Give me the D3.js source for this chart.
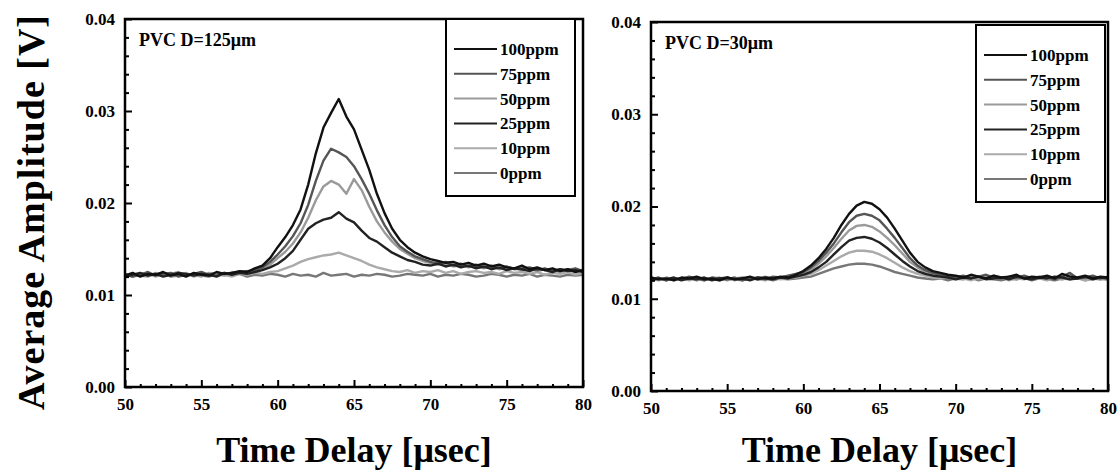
<!DOCTYPE html>
<html>
<head>
<meta charset="utf-8">
<script src="https://cdn.jsdelivr.net/npm/d3@7"></script>
<style>
  body { margin: 0; background: #fff; }
  svg { display: block; font-family: "Liberation Serif", "DejaVu Serif", serif; font-weight: bold; }
</style>
</head>
<body>
<svg id="chart" width="1120" height="473"></svg>
<script>
// sampling of the traces: 50 .. 80 usec every 0.5 usec
const timeStart = 50;
const timeStep = 0.5;

const seriesNames = ["100ppm", "75ppm", "50ppm", "25ppm", "10ppm", "0ppm"];
const xTicks = [50, 55, 60, 65, 70, 75, 80];
const yTicks = [0.00, 0.01, 0.02, 0.03, 0.04];

// amplitudes in mV (PVC D=125um)
const thick100 = [12.1,12.4,12.0,12.3,12.2,12.5,12.1,12.3,12.0,12.4,12.2,12.1,12.5,12.3,12.4,12.6,12.5,12.9,13.2,14.0,15.2,16.3,17.6,19.3,22.0,25.4,28.2,29.8,31.3,29.4,28.0,25.8,23.6,21.0,18.9,17.2,16.0,15.2,14.6,14.2,13.9,13.7,13.5,13.6,13.3,13.5,13.2,13.4,13.1,13.3,13.0,12.9,13.2,12.8,13.0,12.7,12.9,12.6,12.8,12.5,12.7];
const thick75 = [12.3,12.0,12.2,12.5,12.1,12.3,12.4,12.0,12.2,12.3,12.5,12.2,12.1,12.4,12.3,12.5,12.6,12.7,13.0,13.6,14.4,15.3,16.4,17.8,19.8,22.4,24.6,25.9,25.5,25.0,24.0,22.6,21.0,19.2,17.6,16.3,15.3,14.7,14.2,13.9,13.6,13.4,13.6,13.2,13.4,13.1,13.3,13.0,13.2,12.9,13.1,12.8,12.9,13.0,12.7,12.9,12.6,12.8,12.7,12.9,12.6];
const thick50 = [12.2,12.3,12.1,12.0,12.4,12.2,12.3,12.5,12.1,12.2,12.0,12.4,12.3,12.1,12.5,12.3,12.4,12.6,12.9,13.3,14.0,14.7,15.6,16.8,18.4,20.3,21.8,22.4,22.0,21.0,22.6,21.4,19.6,18.0,16.8,15.8,15.0,14.5,14.0,13.7,13.5,13.3,13.4,13.1,13.3,13.0,13.2,12.9,13.1,12.8,13.0,12.9,12.7,12.9,12.6,12.8,12.7,12.5,12.8,12.6,12.7];
const thick25 = [12.0,12.2,12.4,12.1,12.3,12.0,12.2,12.4,12.3,12.1,12.3,12.2,12.0,12.4,12.2,12.4,12.3,12.5,12.7,13.0,13.4,14.0,14.8,16.0,17.2,17.8,18.2,18.4,19.0,18.3,17.9,17.0,16.2,15.8,15.2,14.6,14.2,13.8,13.6,13.3,13.2,13.4,13.1,13.3,13.0,13.2,12.9,13.1,12.8,13.0,12.7,12.9,12.8,12.6,12.9,12.7,12.5,12.8,12.6,12.7,12.5];
const thick10 = [12.3,12.1,12.2,12.4,12.0,12.3,12.1,12.2,12.4,12.0,12.2,12.3,12.1,12.2,12.0,12.3,12.2,12.4,12.3,12.5,12.6,12.9,13.2,13.6,13.9,14.1,14.3,14.4,14.6,14.3,14.0,13.7,13.3,13.0,12.8,12.6,12.5,12.7,12.4,12.6,12.5,12.7,12.4,12.6,12.3,12.5,12.6,12.4,12.5,12.3,12.6,12.4,12.5,12.3,12.5,12.2,12.4,12.3,12.5,12.2,12.4];
const thick0 = [12.2,12.0,12.3,12.1,12.2,12.4,12.0,12.1,12.3,12.2,12.1,12.0,12.3,12.2,12.1,12.3,12.0,12.2,12.1,12.3,12.2,12.0,12.3,12.1,12.2,12.0,12.4,12.1,12.2,12.3,12.0,12.2,12.1,12.3,12.2,12.0,12.1,12.3,12.2,12.1,12.3,12.0,12.2,12.1,12.3,12.2,12.0,12.1,12.3,12.2,12.0,12.2,12.1,12.3,12.0,12.2,12.1,12.0,12.2,12.1,12.2];

// amplitudes in mV (PVC D=30um)
const thin100 = [12.3,12.1,12.2,12.0,12.3,12.2,12.4,12.1,12.2,12.0,12.3,12.1,12.2,12.4,12.1,12.3,12.2,12.4,12.3,12.6,13.0,13.6,14.4,15.4,16.6,18.0,19.2,20.1,20.5,20.3,19.7,18.8,17.6,16.3,15.0,14.0,13.4,13.0,12.8,12.6,12.5,12.3,12.6,12.4,12.2,12.5,12.3,12.4,12.6,12.2,12.4,12.3,12.5,12.2,12.7,12.4,12.3,12.5,12.2,12.4,12.3];
const thin75 = [12.1,12.3,12.0,12.2,12.1,12.4,12.2,12.0,12.3,12.2,12.1,12.3,12.0,12.2,12.3,12.1,12.4,12.3,12.5,12.7,12.9,13.4,14.1,15.0,16.0,17.2,18.3,19.0,19.2,19.0,18.5,17.6,16.6,15.5,14.4,13.6,13.1,12.8,12.6,12.5,12.3,12.5,12.2,12.4,12.6,12.3,12.2,12.4,12.3,12.5,12.2,12.4,12.3,12.1,12.4,12.8,12.2,12.3,12.5,12.2,12.4];
const thin50 = [12.2,12.0,12.3,12.1,12.2,12.0,12.3,12.2,12.1,12.3,12.0,12.2,12.3,12.1,12.2,12.4,12.1,12.3,12.4,12.5,12.8,13.2,13.8,14.6,15.5,16.5,17.4,17.9,18.0,17.8,17.3,16.6,15.8,14.9,14.0,13.4,12.9,12.7,12.5,12.4,12.2,12.4,12.3,12.1,12.3,12.5,12.2,12.3,12.1,12.4,12.3,12.2,12.4,12.3,12.1,12.5,12.3,12.2,12.4,12.1,12.3];
const thin25 = [12.0,12.2,12.1,12.3,12.0,12.2,12.1,12.3,12.0,12.2,12.3,12.1,12.2,12.0,12.3,12.2,12.1,12.3,12.2,12.4,12.6,12.9,13.4,14.0,14.8,15.6,16.3,16.6,16.7,16.5,16.1,15.5,14.8,14.1,13.5,13.0,12.7,12.5,12.4,12.3,12.1,12.3,12.2,12.4,12.1,12.2,12.3,12.1,12.4,12.2,12.1,12.3,12.2,12.4,12.3,12.1,12.2,12.4,12.1,12.3,12.2];
const thin10 = [12.3,12.1,12.2,12.0,12.2,12.3,12.1,12.0,12.2,12.1,12.2,12.0,12.3,12.2,12.1,12.0,12.3,12.1,12.2,12.3,12.5,12.7,13.1,13.6,14.1,14.6,15.0,15.2,15.2,15.1,14.8,14.4,13.9,13.4,13.0,12.7,12.5,12.3,12.2,12.3,12.1,12.2,12.0,12.3,12.2,12.1,12.3,12.0,12.2,12.1,12.3,12.2,12.0,12.2,12.1,12.3,12.2,12.0,12.1,12.2,12.0];
const thin0 = [12.1,12.2,12.0,12.2,12.1,12.3,12.0,12.2,12.1,12.0,12.2,12.1,12.0,12.3,12.1,12.2,12.0,12.2,12.1,12.2,12.3,12.4,12.7,13.0,13.3,13.5,13.7,13.8,13.8,13.7,13.5,13.2,12.9,12.7,12.5,12.3,12.2,12.1,12.2,12.0,12.2,12.1,12.3,12.0,12.2,12.1,12.0,12.2,12.1,12.3,12.0,12.2,12.1,12.0,12.2,12.1,12.3,12.0,12.2,12.1,12.2];

const lineColors = {
    "100ppm": "#111",
    "75ppm": "#555",
    "50ppm": "#9a9a9a",
    "25ppm": "#222",
    "10ppm": "#aaa",
    "0ppm": "#777"
};
const drawOrder = ["0ppm", "10ppm", "50ppm", "75ppm", "25ppm", "100ppm"];

const panels = [
    { label: "PVC D=125\u03bcm", series: [thick100, thick75, thick50, thick25, thick10, thick0],
      left: 125, right: 583, top: 19, bottom: 387, legendX: 446, legendY: 19 },
    { label: "PVC D=30\u03bcm", series: [thin100, thin75, thin50, thin25, thin10, thin0],
      left: 651, right: 1108, top: 22, bottom: 391, legendX: 976, legendY: 25 }
];

const svg = d3.select("#chart");

function drawPanel(p) {
    const x = d3.scaleLinear().domain([50, 80]).range([p.left, p.right]);
    const y = d3.scaleLinear().domain([0, 0.04]).range([p.bottom, p.top]);
    const g = svg.append("g");

    // traces
    const line = d3.line()
        .x((d, i) => x(timeStart + i * timeStep))
        .y(d => y(d / 1000));
    drawOrder.forEach(name => {
        const values = p.series[seriesNames.indexOf(name)];
        g.append("path")
            .attr("d", line(values))
            .attr("fill", "none")
            .attr("stroke", lineColors[name])
            .attr("stroke-width", 2.4)
            .attr("stroke-linejoin", "round");
    });

    // minor ticks
    g.append("g")
        .attr("transform", `translate(0,${p.bottom})`)
        .call(d3.axisBottom(x).tickValues(d3.range(51, 80, 1).filter(v => v % 5)).tickSize(-3).tickFormat(""))
        .call(a => a.select(".domain").remove());
    g.append("g")
        .attr("transform", `translate(${p.left},0)`)
        .call(d3.axisLeft(y).tickValues(d3.range(0.002, 0.04, 0.002).filter((v, i) => (i + 1) % 5)).tickSize(-4).tickFormat(""))
        .call(a => a.select(".domain").remove());

    // major axes
    const xAxis = g.append("g")
        .attr("transform", `translate(0,${p.bottom})`)
        .call(d3.axisBottom(x).tickValues(xTicks).tickSize(-7).tickPadding(11).tickFormat(d3.format("d")));
    const yAxis = g.append("g")
        .attr("transform", `translate(${p.left},0)`)
        .call(d3.axisLeft(y).tickValues(yTicks).tickSize(-7).tickPadding(10).tickFormat(d3.format(".2f")));
    [xAxis, yAxis].forEach(a => {
        a.selectAll("text").attr("font-size", 17).attr("font-family", "Liberation Serif").attr("font-weight", "bold").attr("fill", "#000");
        a.select(".domain").remove();
    });
    g.selectAll(".tick line").attr("stroke", "#000").attr("stroke-width", 2);

    // frame
    g.append("rect")
        .attr("x", p.left).attr("y", p.top)
        .attr("width", p.right - p.left).attr("height", p.bottom - p.top)
        .attr("fill", "none").attr("stroke", "#000").attr("stroke-width", 2.5);

    g.append("text")
        .attr("x", p.left + 14).attr("y", p.top + 27)
        .attr("font-size", 18)
        .text(p.label);

    // legend
    const lg = g.append("g").attr("transform", `translate(${p.legendX},${p.legendY})`);
    lg.append("rect")
        .attr("width", 129).attr("height", 177)
        .attr("fill", "#fff").attr("stroke", "#000").attr("stroke-width", 2);
    seriesNames.forEach((name, i) => {
        const ry = 30 + i * 24.8;
        lg.append("line")
            .attr("x1", 8).attr("x2", 51).attr("y1", ry).attr("y2", ry)
            .attr("stroke", lineColors[name]).attr("stroke-width", 2);
        lg.append("text")
            .attr("x", 54).attr("y", ry).attr("dy", "0.35em")
            .attr("font-size", 17)
            .text(name);
    });

    // x title
    g.append("text")
        .attr("x", (p.left + p.right) / 2).attr("y", 462)
        .attr("text-anchor", "middle")
        .attr("font-size", 36)
        .text("Time Delay [\u03bcsec]");
}

panels.forEach(drawPanel);

svg.append("text")
    .attr("transform", "translate(44,212) rotate(-90)")
    .attr("text-anchor", "middle")
    .attr("font-size", 38)
    .attr("letter-spacing", 1)
    .text("Average Amplitude [V]");
</script>
</body>
</html>
